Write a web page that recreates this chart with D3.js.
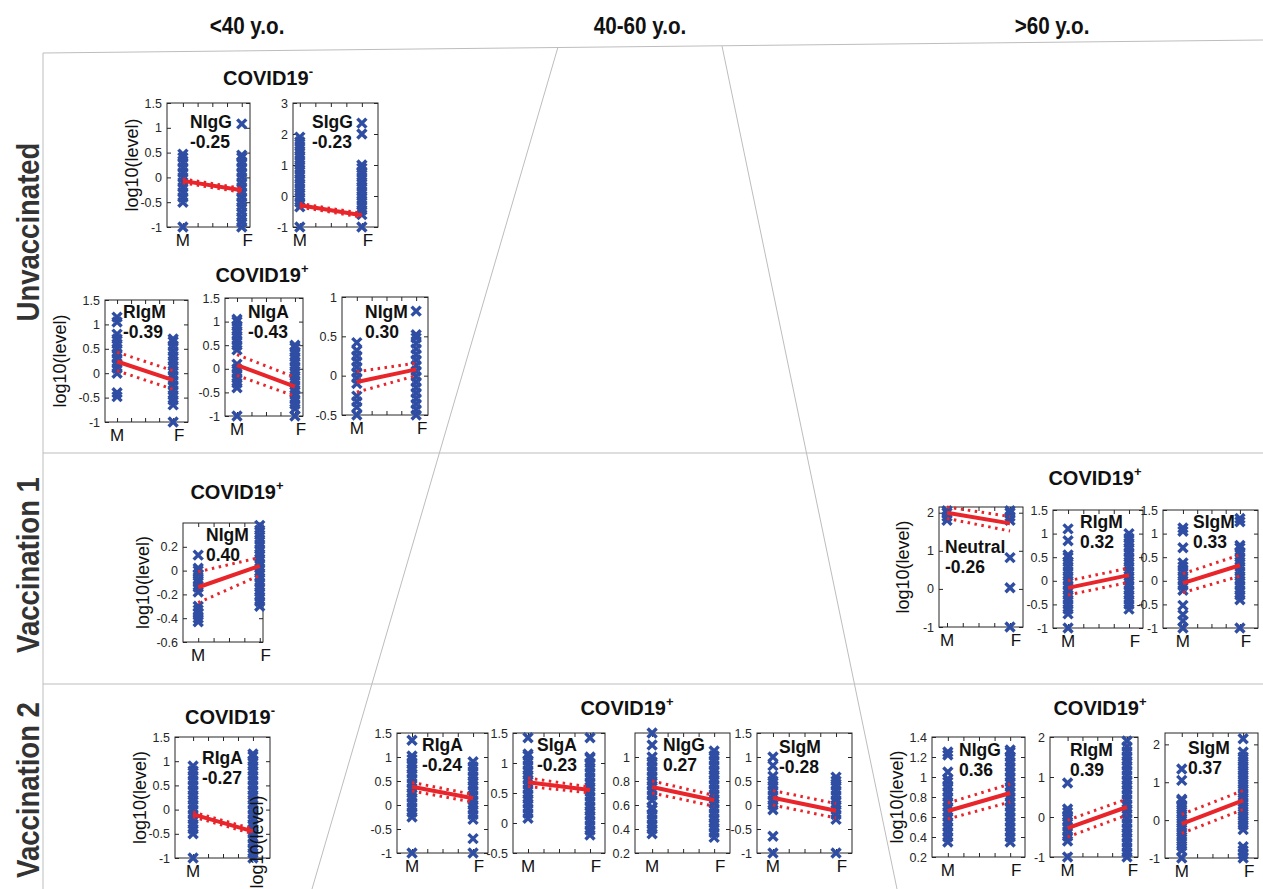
<!DOCTYPE html>
<html><head><meta charset="utf-8">
<script src="https://cdn.jsdelivr.net/npm/d3@7/dist/d3.min.js"></script>
<style>
body{margin:0;background:#fff;}
svg{display:block;}
text{font-family:"Liberation Sans",Arial,sans-serif;}
</style>
</head><body>
<svg id="chart" width="1263" height="889"></svg>
<script>
// ---------------- DATA ----------------
const ageGroups = ["<40 y.o.", "40-60 y.o.", ">60 y.o."];
const vaccinationStages = ["Unvaccinated", "Vaccination 1", "Vaccination 2"];
const sexCategories = ["M", "F"];
const groupTitle = ["COVID19", "COVID19", "COVID19", "COVID19", "COVID19", "COVID19", "COVID19"];
const groupSign = ["-", "+", "+", "+", "-", "+", "+"];

const panelAntibody = ["NIgG","SIgG","RIgM","NIgA","NIgM","NIgM","Neutral","RIgM","SIgM","RIgA","RIgA","SIgA","NIgG","SIgM","NIgG","RIgM","SIgM"];
const panelR = ["-0.25","-0.23","-0.39","-0.43","0.30","0.40","-0.26","0.32","0.33","-0.27","-0.24","-0.23","0.27","-0.28","0.36","0.39","0.37"];

const yLimits = [[-1,1.5],[-1,3],[-1,1.5],[-1,1.5],[-0.5,1],[-0.6,0.4],[-1,2.15],[-1,1.5],[-1,1.5],[-1,1.5],[-1,1.5],[-0.5,1.5],[0.2,1.2],[-1,1.5],[0.2,1.4],[-1,2],[-1,2.3]];
const yTickValues = [
  [-1,-0.5,0,0.5,1,1.5],[-1,0,1,2,3],[-1,-0.5,0,0.5,1,1.5],[-1,-0.5,0,0.5,1,1.5],[-0.5,0,0.5,1],
  [-0.6,-0.4,-0.2,0,0.2],[-1,0,1,2],[-1,-0.5,0,0.5,1,1.5],[-1,-0.5,0,0.5,1,1.5],[-1,-0.5,0,0.5,1,1.5],
  [-1,-0.5,0,0.5,1,1.5],[-0.5,0,0.5,1,1.5],[0.2,0.4,0.6,0.8,1],[-1,-0.5,0,0.5,1,1.5],
  [0.2,0.4,0.6,0.8,1,1.2,1.4],[-1,0,1,2],[-1,0,1,2]
];

const maleLevels = [
  [-1,-0.5,-0.4,-0.3,-0.2,-0.1,0,0.1,0.2,0.3,0.4,0.47],
  [-1,-0.35,-0.2,-0.05,0.1,0.25,0.4,0.55,0.7,0.85,1.0,1.15,1.3,1.45,1.6,1.75,1.9],
  [-0.48,-0.4,0,0.1,0.2,0.3,0.4,0.5,0.6,0.7,0.8,1.05,1.15],
  [-1,-0.4,-0.3,-0.2,-0.1,0,0.1,0.4,0.5,0.6,0.7,0.8,0.9,1.0,1.05],
  [-0.5,-0.4,-0.33,-0.26,-0.1,-0.03,0.04,0.11,0.18,0.25,0.32,0.42],
  [-0.43,-0.4,-0.36,-0.33,-0.3,-0.18,-0.14,-0.1,-0.07,-0.03,0,0.02,0.13],
  [1.8,1.9,2.0,2.05],
  [-1,-0.7,-0.6,-0.5,-0.4,-0.3,-0.2,-0.1,0,0.1,0.2,0.3,0.4,0.5,0.55,0.85,1.1],
  [-1,-0.85,-0.72,-0.52,-0.2,-0.1,0,0.1,0.2,0.3,0.38,0.7,1.05,1.12],
  [-1,-0.5,-0.4,-0.3,-0.2,-0.1,0,0.1,0.2,0.3,0.4,0.5,0.6,0.7,0.8,0.9],
  [-1,-0.25,-0.15,-0.05,0.05,0.15,0.25,0.35,0.45,0.55,0.65,0.75,0.85,0.95,1.02,1.35],
  [0.08,0.16,0.24,0.32,0.4,0.48,0.56,0.64,0.72,0.8,0.88,0.96,1.04,1.12,1.15,1.42],
  [0.36,0.4,0.44,0.48,0.52,0.56,0.58,0.64,0.68,0.72,0.76,0.8,0.84,0.88,0.92,0.96,1.0,1.1,1.2],
  [-1,-0.65,-0.1,0,0.1,0.2,0.3,0.4,0.5,0.6,0.82,1.0],
  [0.35,0.4,0.45,0.5,0.55,0.6,0.65,0.7,0.75,0.8,0.85,0.9,0.95,0.98,1.05,1.22,1.25],
  [-1,-0.6,-0.48,-0.36,-0.24,-0.12,0,0.12,0.2,0.85],
  [-1,-0.8,-0.68,-0.56,-0.44,-0.32,-0.2,-0.08,0.04,0.16,0.28,0.4,0.52,0.55,1.05,1.35]
];
const femaleLevels = [
  [-1,-0.9,-0.8,-0.7,-0.6,-0.5,-0.4,-0.3,-0.2,-0.1,0,0.1,0.2,0.3,0.4,0.45,1.08],
  [-1,-0.6,-0.45,-0.3,-0.15,0,0.15,0.3,0.45,0.6,0.75,0.9,1.0,2.0,2.35],
  [-1,-0.65,-0.55,-0.45,-0.35,-0.25,-0.15,-0.05,0.05,0.15,0.25,0.35,0.45,0.55,0.65,0.7],
  [-1,-0.85,-0.75,-0.65,-0.55,-0.45,-0.35,-0.25,-0.15,-0.05,0.05,0.15,0.25,0.35,0.45,0.5],
  [-0.5,-0.43,-0.36,-0.29,-0.22,-0.15,-0.08,-0.01,0.06,0.13,0.2,0.27,0.34,0.41,0.48,0.52,0.82],
  [-0.3,-0.26,-0.22,-0.18,-0.14,-0.1,-0.06,-0.02,0.02,0.06,0.1,0.14,0.18,0.22,0.26,0.3,0.34,0.38],
  [-1,0.03,0.82,1.8,1.9,2.0,2.05],
  [-0.6,-0.5,-0.4,-0.3,-0.2,-0.1,0,0.1,0.2,0.3,0.4,0.5,0.6,0.7,0.8,0.9,1.0],
  [-1,-0.4,-0.3,-0.2,-0.1,0,0.1,0.2,0.3,0.4,0.5,0.6,0.7,0.75,1.25,1.32],
  [-1,-0.9,-0.8,-0.7,-0.6,-0.5,-0.4,-0.3,-0.2,-0.1,0,0.1,0.2,0.3,0.4,0.5,0.6,0.7,0.8,0.9,1.0,1.1,1.15],
  [-1,-0.7,-0.3,-0.2,-0.1,0,0.1,0.2,0.3,0.4,0.5,0.6,0.7,0.8,0.9],
  [-0.2,-0.12,-0.04,0.04,0.12,0.2,0.28,0.36,0.44,0.52,0.6,0.68,0.76,0.84,0.92,1.0,1.08,1.1,1.42],
  [0.33,0.37,0.41,0.45,0.49,0.53,0.57,0.61,0.65,0.69,0.73,0.77,0.81,0.85,0.89,0.93,0.97,1.01,1.05],
  [-1,-0.3,-0.2,-0.1,0,0.1,0.2,0.3,0.4,0.5,0.58],
  [0.35,0.4,0.45,0.5,0.55,0.6,0.65,0.7,0.75,0.8,0.85,0.9,0.95,1.0,1.05,1.1,1.15,1.2,1.25,1.27],
  [-1,-0.88,-0.76,-0.64,-0.52,-0.4,-0.28,-0.16,-0.04,0.08,0.2,0.32,0.44,0.56,0.68,0.8,0.92,1.04,1.16,1.28,1.4,1.52,1.64,1.76,1.9],
  [-1,-0.9,-0.8,-0.7,-0.25,-0.13,-0.01,0.11,0.23,0.35,0.47,0.59,0.71,0.83,0.95,1.07,1.19,1.31,1.43,1.55,1.67,1.8,2.15]
];

// regression fit at M and F, plus confidence bounds
const fitMale     = [-0.07,-0.3,0.24,0.08,-0.08,-0.14,2.0,-0.15,-0.05,-0.1,0.38,0.68,0.75,0.15,0.66,-0.28,-0.1];
const fitFemale   = [-0.26,-0.62,-0.14,-0.38,0.08,0.04,1.72,0.12,0.33,-0.45,0.14,0.55,0.64,-0.12,0.84,0.25,0.52];
const ciUpperMale   = [-0.03,-0.24,0.43,0.3,0.05,-0.01,2.15,0.0,0.15,-0.05,0.47,0.75,0.8,0.3,0.74,-0.08,0.15];
const ciUpperFemale = [-0.22,-0.56,0.05,-0.18,0.16,0.11,1.9,0.27,0.55,-0.4,0.22,0.6,0.68,0.03,0.93,0.45,0.78];
const ciLowerMale   = [-0.11,-0.36,0.05,-0.14,-0.21,-0.27,1.85,-0.3,-0.25,-0.15,0.29,0.61,0.7,0.0,0.58,-0.5,-0.35];
const ciLowerFemale = [-0.30,-0.68,-0.33,-0.58,0.0,-0.04,1.52,-0.03,0.1,-0.5,0.06,0.5,0.59,-0.27,0.75,0.05,0.28];

// ---------------- LAYOUT ----------------
const panelLayout = [
  {x:167, y:103, w:83, h:124, xlim:[0.73,2.14], tx:190, ty:128, yl:132},
  {x:293, y:103, w:85, h:124, xlim:[0.89,2.26], tx:312, ty:128},
  {x:105, y:300, w:83, h:122, xlim:[0.785,2.265], tx:123, ty:318, yl:60},
  {x:225, y:298, w:78, h:118, xlim:[0.793,2.139], tx:248, ty:318},
  {x:342, y:297, w:86, h:118, xlim:[0.75,2.2], tx:365, ty:318},
  {x:183, y:523, w:80, h:119, xlim:[0.753,2.053], tx:206, ty:541, yl:143},
  {x:939, y:507, w:84, h:120, xlim:[0.873,2.206], tx:945, ty:553, yl:903},
  {x:1053, y:510, w:90, h:118, xlim:[0.753,2.23], tx:1080, ty:528},
  {x:1163, y:510, w:95, h:118, xlim:[0.65,2.317], tx:1193, ty:528},
  {x:175, y:737, w:95, h:121, xlim:[0.698,2.285], tx:202, ty:764, yl:140, noF:true},
  {x:397, y:733, w:91, h:120, xlim:[0.754,2.245], tx:422, ty:751},
  {x:513, y:733, w:92, h:120, xlim:[0.758,2.242], tx:537, ty:751},
  {x:635, y:733, w:95, h:120, xlim:[0.724,2.256], tx:663, ty:751},
  {x:757, y:733, w:95, h:120, xlim:[0.747,2.253], tx:779, ty:753},
  {x:932, y:737, w:93, h:120, xlim:[0.746,2.238], tx:959, ty:756, yl:897},
  {x:1050, y:737, w:88, h:120, xlim:[0.704,2.185], tx:1070, ty:756},
  {x:1165, y:733, w:93, h:125, xlim:[0.727,2.242], tx:1188, ty:754}
];
const titleLayout = [[268,85],[262,282],[237,499],[1095,485],[230,724],[627,715],[1100,715]];

const BLUE = "#2f4ea3", RED = "#e8252a", GRID = "#bdbdbd", INK = "#262626";
const svg = d3.select("#chart");

// ---------- frame lines ----------
const frame = svg.append("g").attr("stroke", GRID).attr("stroke-width", 1).attr("fill", "none");
frame.append("line").attr("x1",43).attr("y1",53).attr("x2",1263).attr("y2",40);
frame.append("line").attr("x1",43).attr("y1",53).attr("x2",43).attr("y2",889);
frame.append("line").attr("x1",43).attr("y1",453).attr("x2",1263).attr("y2",453);
frame.append("line").attr("x1",43).attr("y1",684).attr("x2",1263).attr("y2",684);
frame.append("line").attr("x1",558).attr("y1",47).attr("x2",312).attr("y2",889);
frame.append("line").attr("x1",722).attr("y1",46).attr("x2",897).attr("y2",889);

// ---------- headers ----------
const headerX = [247, 640, 1052];
ageGroups.forEach((a,i)=>{
  svg.append("text").attr("transform",`translate(${headerX[i]},34) scale(0.86,1)`).attr("text-anchor","middle")
    .attr("font-weight","bold").attr("font-size",24).attr("fill","#111").text(a);
});
const rowY = [232, 565, 790];
vaccinationStages.forEach((v,i)=>{
  svg.append("text").attr("transform",`translate(39,${rowY[i]}) rotate(-90) scale(0.86,1)`).attr("text-anchor","middle")
    .attr("font-weight","bold").attr("font-size",32).attr("fill","#333").text(v);
});

// ---------- group titles ----------
groupTitle.forEach((t,i)=>{
  const tx = svg.append("text").attr("x",titleLayout[i][0]).attr("y",titleLayout[i][1])
    .attr("text-anchor","middle").attr("font-weight","bold").attr("font-size",20).attr("fill","#111");
  tx.append("tspan").text(t);
  tx.append("tspan").attr("font-size",13).attr("dy",-9).text(groupSign[i]);
});

// ---------- panels ----------
const xMinor = [1, 1.25, 1.5, 1.75, 2];
const marker = "M-4.5,-4.5L4.5,4.5M-4.5,4.5L4.5,-4.5";
panelLayout.forEach((L,i)=>{
  const x = d3.scaleLinear().domain(L.xlim).range([L.x, L.x+L.w]);
  const y = d3.scaleLinear().domain(yLimits[i]).range([L.y+L.h, L.y]);
  const g = svg.append("g");
  g.append("rect").attr("x",L.x).attr("y",L.y).attr("width",L.w).attr("height",L.h)
    .attr("fill","#fff").attr("stroke",INK).attr("stroke-width",1);

  const yl = g.append("g").attr("transform",`translate(${L.x},0)`)
    .call(d3.axisLeft(y).tickValues(yTickValues[i]).tickSize(-4).tickPadding(5).tickFormat(d=>String(d)));
  const yr = g.append("g").attr("transform",`translate(${L.x+L.w},0)`)
    .call(d3.axisRight(y).tickValues(yTickValues[i]).tickSize(-4).tickFormat(""));
  const xb = g.append("g").attr("transform",`translate(0,${L.y+L.h})`)
    .call(d3.axisBottom(x).tickValues(xMinor).tickSize(-4).tickFormat(""));
  const xt = g.append("g").attr("transform",`translate(0,${L.y})`)
    .call(d3.axisTop(x).tickValues(xMinor).tickSize(-4).tickFormat(""));
  [yl,yr,xb,xt].forEach(a=>{a.select(".domain").remove(); a.selectAll("line").attr("stroke",INK);});
  yl.selectAll("text").attr("font-size",12.5).attr("fill",INK).style("font-family",'"Liberation Sans",Arial,sans-serif');

  // scatter
  const pts = [];
  maleLevels[i].forEach(v=>pts.push([1,v]));
  femaleLevels[i].forEach(v=>pts.push([2,v]));
  g.append("g").selectAll("path").data(pts).join("path")
    .attr("d",marker).attr("transform",d=>`translate(${x(d[0])},${y(d[1])})`)
    .attr("stroke",BLUE).attr("stroke-width",3.4).attr("fill","none");

  // confidence bounds (dotted) and fit
  const bounds = [[ciUpperMale[i],ciUpperFemale[i]],[ciLowerMale[i],ciLowerFemale[i]]];
  bounds.forEach(b=>{
    g.append("line").attr("x1",x(1)).attr("y1",y(b[0])).attr("x2",x(2)).attr("y2",y(b[1]))
      .attr("stroke",RED).attr("stroke-width",3).attr("stroke-dasharray","2.5,4.5");
  });
  g.append("line").attr("x1",x(1)).attr("y1",y(fitMale[i])).attr("x2",x(2)).attr("y2",y(fitFemale[i]))
    .attr("stroke",RED).attr("stroke-width",4);

  // antibody label + correlation
  g.append("text").attr("x",L.tx).attr("y",L.ty).attr("font-weight","bold").attr("font-size",17.5).attr("fill","#111").text(panelAntibody[i]);
  g.append("text").attr("x",L.tx).attr("y",L.ty+20).attr("font-weight","bold").attr("font-size",17.5).attr("fill","#111").text(panelR[i]);

  // sex labels
  g.append("text").attr("x",x(1)).attr("y",L.y+L.h+19).attr("text-anchor","middle").attr("font-size",17).attr("fill","#111").text(sexCategories[0]);
  if(!L.noF) g.append("text").attr("x",x(2)+6).attr("y",L.y+L.h+19).attr("text-anchor","middle").attr("font-size",17).attr("fill","#111").text(sexCategories[1]);

  if(L.yl){
    g.append("text").attr("transform",`translate(${L.yl},${L.y+L.h/2}) rotate(-90)`).attr("text-anchor","middle")
      .attr("dy","0.35em").attr("font-size",18).attr("fill","#111").text("log10(level)");
  }
});
// stray overlapping axis label in the Vaccination 2, <40 panel
svg.append("text").attr("transform","translate(257,842) rotate(-90)").attr("text-anchor","middle")
  .attr("dy","0.35em").attr("font-size",18).attr("fill","#111").text("log10(level)");
</script>
</body></html>
